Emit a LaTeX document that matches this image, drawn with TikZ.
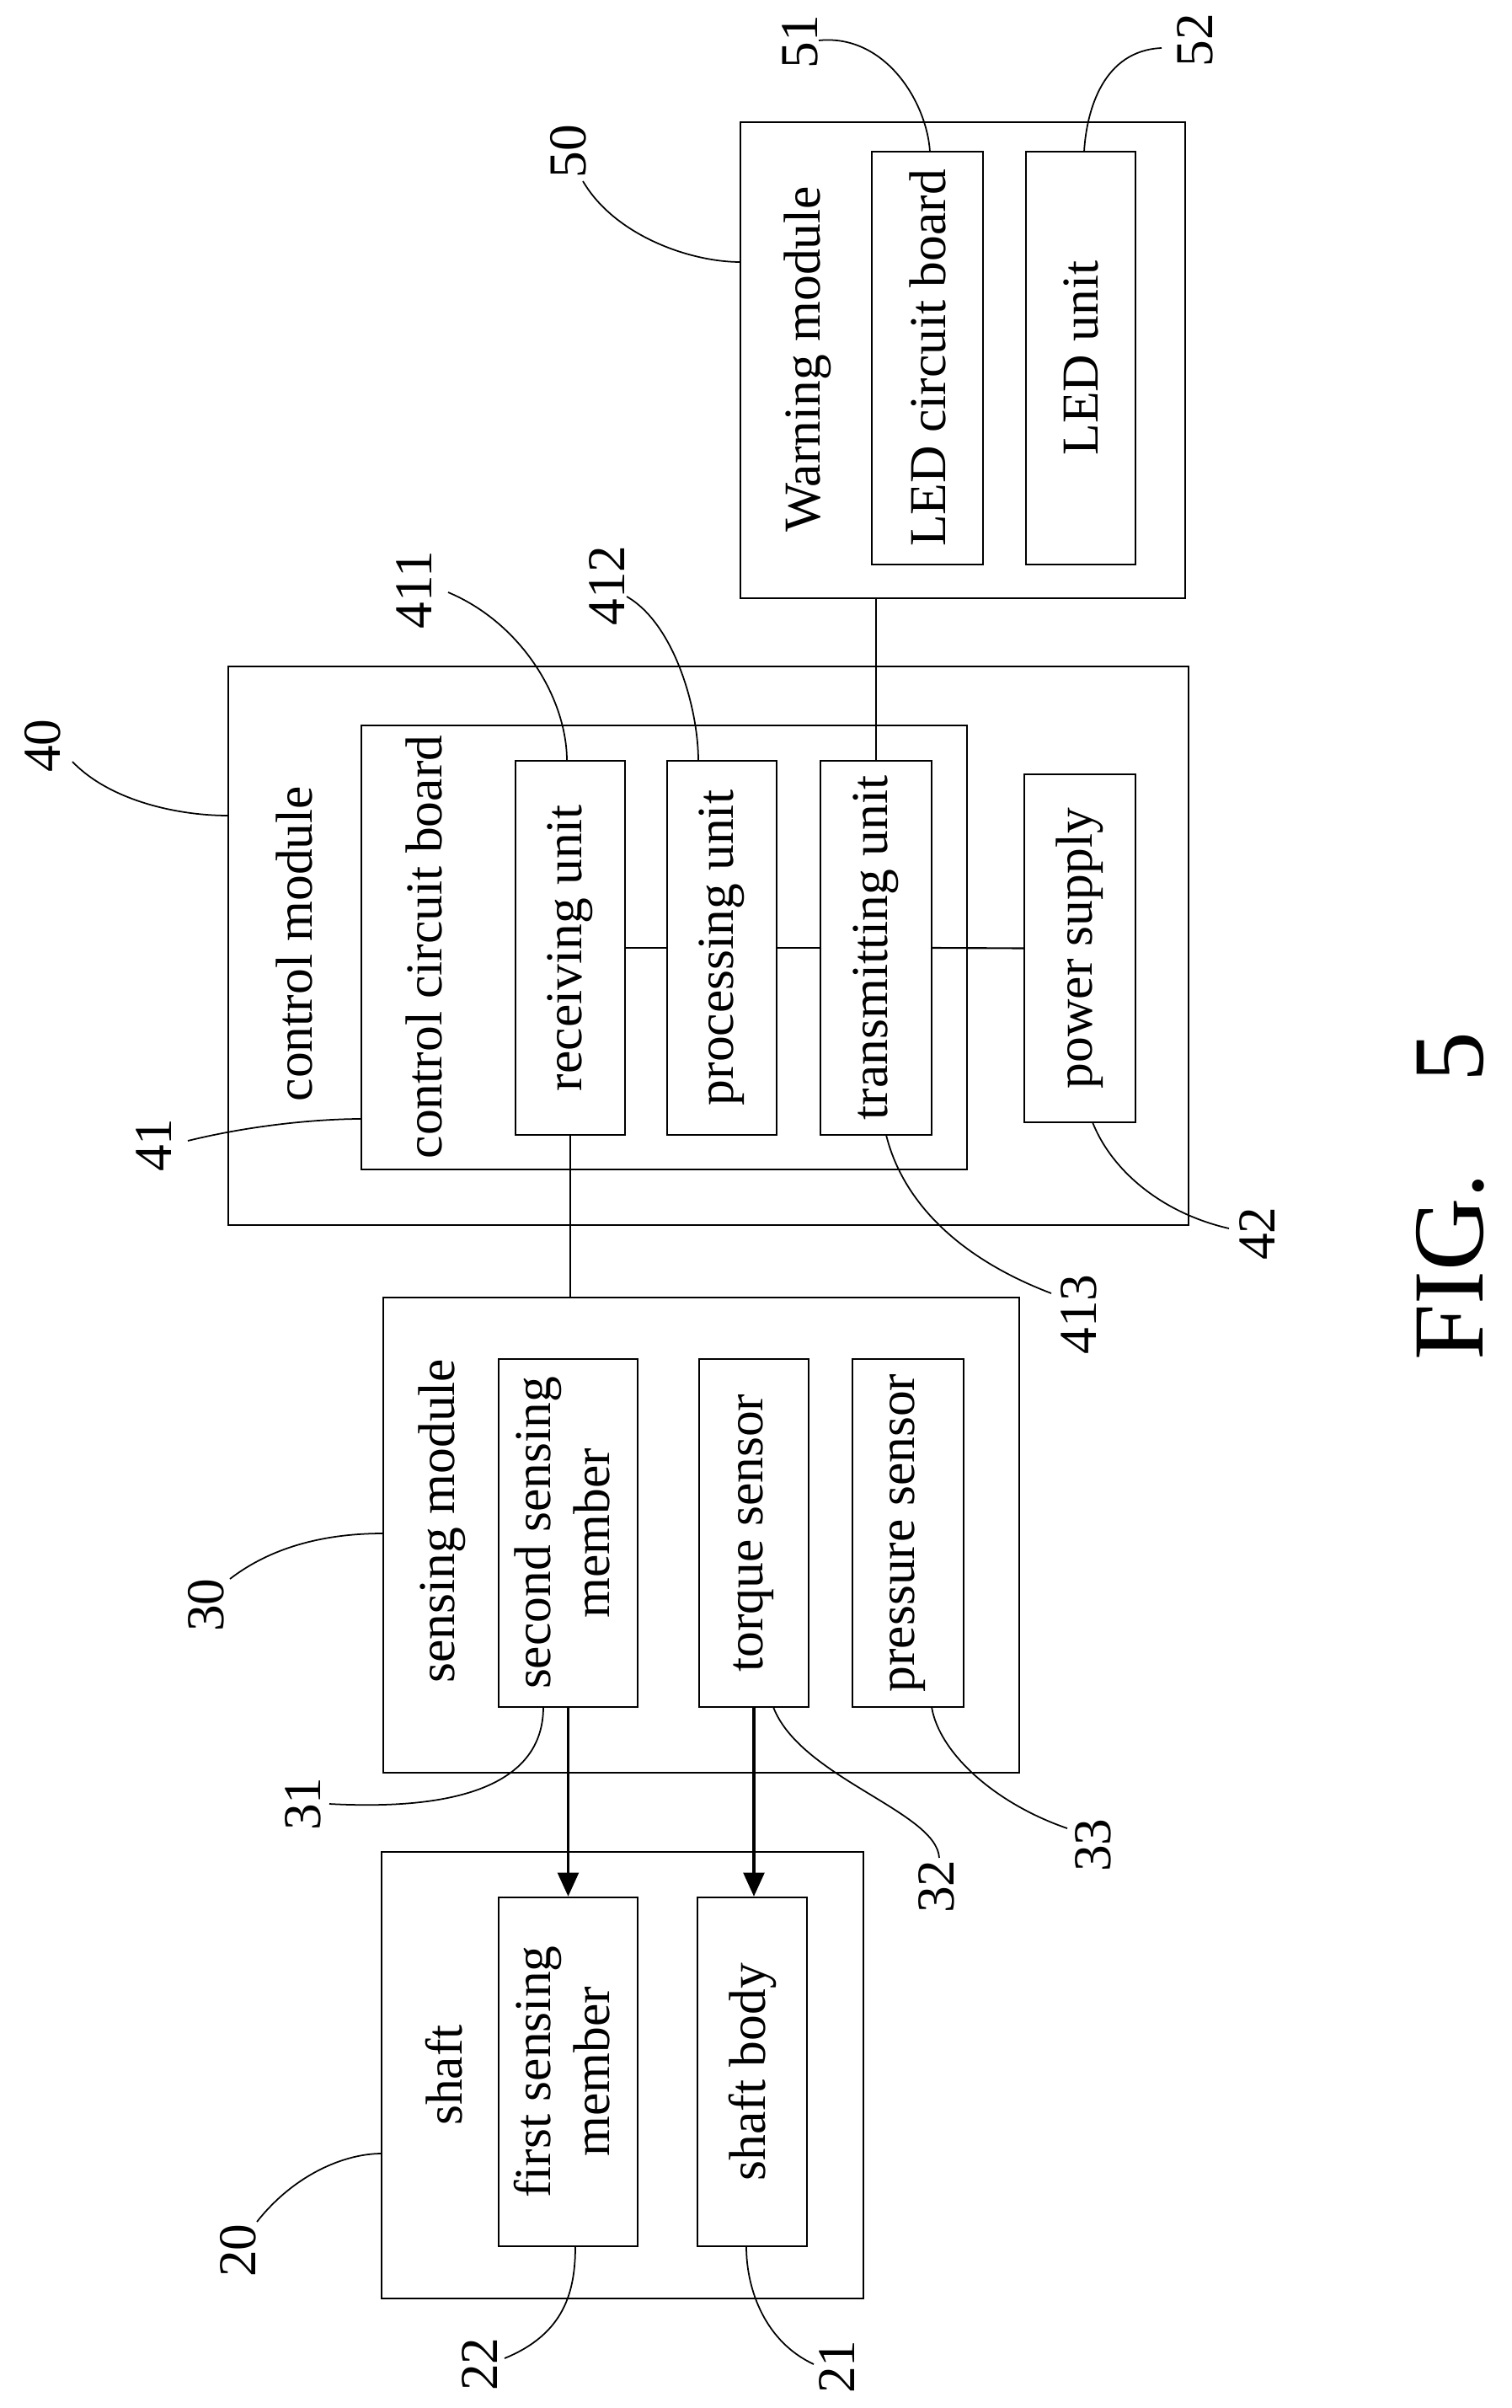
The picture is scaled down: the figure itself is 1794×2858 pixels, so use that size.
\documentclass[tikz,border=0pt]{standalone}
\usepackage{fontspec}
\setmainfont{Liberation Serif}
\usetikzlibrary{arrows.meta}
\begin{document}
\begin{tikzpicture}[x=0.01cm,y=-0.01cm,
 box/.style={draw,line width=0.6pt,inner sep=0pt,font=\fontsize{17.5}{20}\selectfont,align=center},
 txt/.style={rotate=90,font=\fontsize{17.5}{20}\selectfont,align=center,inner sep=0pt},
 lab/.style={rotate=90,font=\fontsize{18}{20}\selectfont,inner sep=0pt},
 lead/.style={line width=0.5pt},
 conn/.style={line width=0.6pt},
 arr/.style={line width=1pt,-{Triangle[length=8pt,width=7pt]}}]
\useasboundingbox (0,0) rectangle (1794,2858);
% warning module
\node[box,minimum width=5.28cm,minimum height=5.65cm] (warn) at (1143,427.5) {};
\node[txt] (warnt) at (959,426) {Warning module};
\node[box,minimum width=1.32cm,minimum height=4.90cm] (ledcb) at (1101,425) {\rotatebox{90}{LED circuit board}};
\node[box,minimum width=1.30cm,minimum height=4.90cm] (ledu) at (1283,425) {\rotatebox{90}{LED unit}};
% control module
\node[box,minimum width=11.40cm,minimum height=6.63cm] (ctrl) at (841,1122.5) {};
\node[txt] (ctrlt) at (349,1120) {control module};
\node[box,minimum width=7.19cm,minimum height=5.27cm] (ccb) at (788.5,1124.5) {};
\node[txt] (ccbt) at (503,1124) {control circuit board};
\node[box,minimum width=1.30cm,minimum height=4.44cm] (recv) at (677,1125) {\rotatebox{90}{receiving unit}};
\node[box,minimum width=1.30cm,minimum height=4.44cm] (proc) at (857,1125) {\rotatebox{90}{processing unit}};
\node[box,minimum width=1.32cm,minimum height=4.44cm] (trans) at (1040,1125) {\rotatebox{90}{transmitting unit}};
\node[box,minimum width=1.32cm,minimum height=4.13cm] (power) at (1282,1125.5) {\rotatebox{90}{power supply}};
% sensing module
\node[box,minimum width=7.55cm,minimum height=5.64cm] (sens) at (832.5,1822) {};
\node[txt] (senst) at (525,1805) {sensing module};
\node[box,minimum width=1.65cm,minimum height=4.13cm] (second) at (674.5,1819.5) {\rotatebox{90}{\begin{tabular}{@{}c@{}}second sensing\\member\end{tabular}}};
\node[box,minimum width=1.30cm,minimum height=4.13cm] (torque) at (895,1819.5) {\rotatebox{90}{torque sensor}};
\node[box,minimum width=1.32cm,minimum height=4.13cm] (press) at (1078,1819.5) {\rotatebox{90}{pressure sensor}};
% shaft
\node[box,minimum width=5.72cm,minimum height=5.30cm] (shaft) at (739,2463) {};
\node[txt] (shaftt) at (527,2463) {shaft};
\node[box,minimum width=1.65cm,minimum height=4.14cm] (first) at (674.5,2459) {\rotatebox{90}{\begin{tabular}{@{}c@{}}first sensing\\member\end{tabular}}};
\node[box,minimum width=1.30cm,minimum height=4.14cm] (body) at (893,2459) {\rotatebox{90}{shaft body}};
% connectors
\draw[conn] (trans.north |- warn.south) -- (trans.north);
\draw[conn] (recv.east) -- (proc.west);
\draw[conn] (proc.east) -- (trans.west);
\draw[conn] (trans.east) -- (power.west);
\draw[conn] (recv.south) -- (recv.south |- sens.north);
\draw[arr] (second.south) -- (first.north);
\draw[arr] (torque.south) -- (torque.south |- body.north);
% labels
\node[lab] (l50) at (675,180) {50};
\node[lab] (l51) at (950,50) {51};
\node[lab] (l52) at (1419,48) {52};
\node[lab] (l40) at (51,885) {40};
\node[lab] (l411) at (492,700) {411};
\node[lab] (l412) at (721,695) {412};
\node[lab] (l41) at (183,1359) {41};
\node[lab] (l413) at (1281,1560) {413};
\node[lab] (l42) at (1493,1464) {42};
\node[lab] (l30) at (245,1905) {30};
\node[lab] (l31) at (360,2141) {31};
\node[lab] (l32) at (1112,2239) {32};
\node[lab] (l33) at (1298,2190) {33};
\node[lab] (l20) at (283,2671) {20};
\node[lab] (l22) at (570,2806) {22};
\node[lab] (l21) at (994,2809) {21};
\node[rotate=90,font=\fontsize{34}{38}\selectfont,inner sep=0pt] (fig) at (1722,1420) {FIG.\hspace{0.9em}5};
% leaders
\draw[lead] (692,215) .. controls (730,280) and (820,311) .. (879,311);
\draw[lead] (972,48) .. controls (1050,40) and (1100,120) .. (1104,180);
\draw[lead] (1379,57) .. controls (1310,60) and (1290,130) .. (1287,180);
\draw[lead] (86,904) .. controls (130,950) and (210,968) .. (271,968);
\draw[lead] (532,703) .. controls (620,740) and (673,830) .. (673,903);
\draw[lead] (744,708) .. controls (800,740) and (829,840) .. (829,903);
\draw[lead] (223,1354) .. controls (300,1335) and (380,1328) .. (429,1328);
\draw[lead] (1248,1535) .. controls (1130,1490) and (1070,1420) .. (1052,1347);
\draw[lead] (1459,1458) .. controls (1380,1440) and (1320,1390) .. (1297,1332);
\draw[lead] (273,1874) .. controls (330,1830) and (400,1820) .. (455,1820);
\draw[lead] (391,2141) .. controls (560,2150) and (645,2110) .. (645,2026);
\draw[lead] (1115,2205) .. controls (1112,2150) and (950,2110) .. (918,2026);
\draw[lead] (1267,2170) .. controls (1180,2140) and (1115,2080) .. (1106,2026);
\draw[lead] (305,2637) .. controls (350,2580) and (410,2556) .. (453,2556);
\draw[lead] (599,2799) .. controls (670,2770) and (683,2720) .. (683,2666);
\draw[lead] (966,2806) .. controls (910,2780) and (886,2720) .. (886,2666);
\end{tikzpicture}
\end{document}
